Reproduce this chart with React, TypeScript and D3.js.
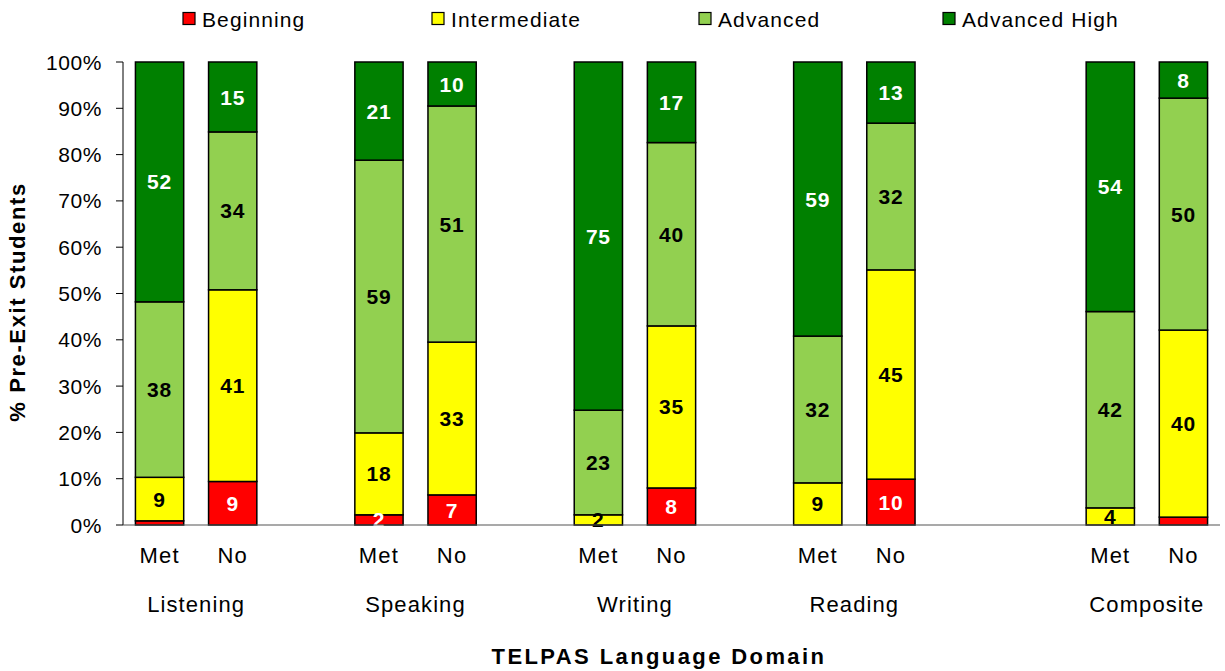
import React from "react";
import * as d3 from "d3";

const domains = ["Listening", "Speaking", "Writing", "Reading", "Composite"];
const statuses = ["Met", "No"];
// x slots (Excel-style blank categories between groups)
const slots = [
  "Listening|Met", "Listening|No", "_g1",
  "Speaking|Met", "Speaking|No", "_g2",
  "Writing|Met", "Writing|No", "_g3",
  "Reading|Met", "Reading|No", "_g4", "_g5",
  "Composite|Met", "Composite|No",
];
const seriesNames = ["Beginning", "Intermediate", "Advanced", "Advanced High"];
// bar order: L-Met, L-No, S-Met, S-No, W-Met, W-No, R-Met, R-No, C-Met, C-No
const beginning = [0.9, 9.4, 2.2, 6.5, 0, 8.0, 0, 9.9, 0, 1.7];
const intermediate = [9.4, 41.4, 17.7, 33.0, 2.2, 35.0, 9.1, 45.2, 3.7, 40.4];
const advanced = [37.9, 34.1, 58.9, 51.0, 22.6, 39.6, 31.7, 31.7, 42.4, 50.1];
const advancedHigh = [51.8, 15.1, 21.2, 9.5, 75.2, 17.4, 59.2, 13.2, 53.9, 7.8];
const yTicks = [0, 10, 20, 30, 40, 50, 60, 70, 80, 90, 100];

const colors = ["#FF0000", "#FFFF00", "#92D050", "#008000"];
const labelColors = ["#FFFFFF", "#000000", "#000000", "#FFFFFF"];
const FONT = "'Liberation Sans', Arial, sans-serif";

export default function App() {
  const W = 1225, H = 671;
  const left = 123, right = 1220, top = 62, bottom = 525;

  const x = d3.scaleBand<string>().domain(slots).range([left, right]).paddingInner(0.34).paddingOuter(0.17);
  const y = d3.scaleLinear().domain([0, 100]).range([bottom, top]);

  const bars: { key: string; domain: string; status: string; idx: number }[] = [];
  domains.forEach((dm) => statuses.forEach((st) => bars.push({ key: `${dm}|${st}`, domain: dm, status: st, idx: bars.length })));

  const series = [beginning, intermediate, advanced, advancedHigh];
  const table = bars.map((b) => {
    const row: any = { key: b.key };
    seriesNames.forEach((s, i) => (row[s] = series[i][b.idx]));
    return row;
  });
  const stacked = d3.stack<any>().keys(seriesNames)(table);

  const bw = x.bandwidth();
  const legendX = [183, 432, 699, 943];

  return (
    <svg width={W} height={H} style={{ position: "absolute", left: 0, top: 0, fontFamily: FONT }}>
      <rect x={0} y={0} width={W} height={H} fill="#fff" />
      {/* legend */}
      {seriesNames.map((s, i) => (
        <g key={s}>
          <rect x={legendX[i]} y={12.5} width={12} height={12} fill={colors[i]} stroke="#000" strokeWidth={1.2} />
          <text x={legendX[i] + 19} y={26.5} fontSize={21} letterSpacing={1.1} fill="#000">{s}</text>
        </g>
      ))}
      {/* bars */}
      {stacked.map((layer, si) => (
        <g key={layer.key}>
          {layer.map((d, bi) => {
            const x0 = x(bars[bi].key)!;
            const y0 = y(d[1]);
            const h = y(d[0]) - y(d[1]);
            if (h <= 0) return null;
            return <rect key={bi} x={x0} y={y0} width={bw} height={h} fill={colors[si]} stroke="#000" strokeWidth={1.5} />;
          })}
        </g>
      ))}
      {/* labels */}
      {stacked.map((layer, si) => (
        <g key={"l" + layer.key}>
          {layer.map((d, bi) => {
            const v = d[1] - d[0];
            if (v < 2) return null;
            const cx = x(bars[bi].key)! + bw / 2;
            const cy = (y(d[0]) + y(d[1])) / 2;
            return (
              <text key={bi} x={cx} y={cy} dy="0.36em" textAnchor="middle" fontSize={21} letterSpacing={0.8} fontWeight="bold" fill={labelColors[si]}>
                {Math.round(v)}
              </text>
            );
          })}
        </g>
      ))}
      {/* y axis */}
      <line x1={left} x2={left} y1={top} y2={bottom} stroke="#000" strokeWidth={1} />
      {yTicks.map((t) => (
        <g key={t}>
          <line x1={left - 7} x2={left} y1={y(t)} y2={y(t)} stroke="#000" strokeWidth={1} />
          <text x={left - 21} y={y(t)} dy="0.36em" textAnchor="end" fontSize={21} letterSpacing={0.6} fill="#000">{t}%</text>
        </g>
      ))}
      {/* x axis */}
      <line x1={left} x2={right} y1={bottom} y2={bottom} stroke="#555" strokeWidth={1.2} />
      {bars.map((b) => (
        <text key={"x" + b.key} x={x(b.key)! + bw / 2} y={563} textAnchor="middle" fontSize={22} letterSpacing={1.2} fill="#000">{b.status}</text>
      ))}
      {domains.map((dm) => {
        const c = (x(`${dm}|Met`)! + x(`${dm}|No`)! + bw) / 2;
        return <text key={dm} x={c} y={612} textAnchor="middle" fontSize={22} letterSpacing={1.1} fill="#000">{dm}</text>;
      })}
      <text x={659} y={664} textAnchor="middle" fontSize={22} letterSpacing={2.4} fontWeight="bold" fill="#000">TELPAS  Language Domain</text>
      <text transform={`translate(25, 302) rotate(-90)`} textAnchor="middle" fontSize={22} letterSpacing={1.6} fontWeight="bold" fill="#000">% Pre-Exit Students</text>
    </svg>
  );
}
